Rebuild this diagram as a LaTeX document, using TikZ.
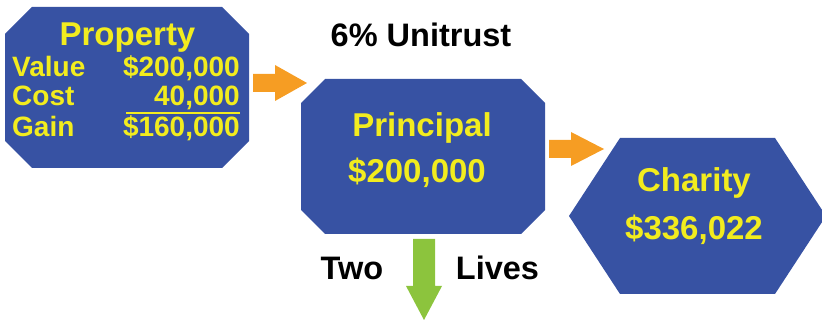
\documentclass[tikz,border=0pt]{standalone}
\usepackage{fontspec}
\setmainfont{Liberation Sans}
\usetikzlibrary{positioning}
\definecolor{boxblue}{RGB}{55, 82, 163}
\definecolor{txtyellow}{RGB}{242, 236, 30}
\definecolor{arroworange}{RGB}{246, 157, 35}
\definecolor{arrowgreen}{RGB}{140, 196, 61}

\begin{document}
\begin{tikzpicture}[x=1pt, y=-1pt,
  big/.style={font=\fontsize{33}{38}\selectfont\bfseries, text=txtyellow, inner sep=0pt},
  rowtxt/.style={font=\fontsize{28}{32}\selectfont\bfseries, text=txtyellow, inner sep=0pt},
  caption/.style={font=\fontsize{32.5}{36}\selectfont\bfseries, text=black, inner sep=0pt}
]
  \useasboundingbox (0,0) rectangle (822,320);

  % the three boxes
  \fill[boxblue] (5,34) -- (32,7) -- (222,7) -- (249,34) -- (249,141) -- (222,168) -- (32,168) -- (5,141) -- cycle;
  \coordinate (property) at (127,87.5);
  \fill[boxblue] (301,103) -- (325,79) -- (521,79) -- (545,103) -- (545,210) -- (521,234) -- (325,234) -- (301,210) -- cycle;
  \coordinate (principal) at (423,156.5);
  \fill[boxblue] (569,216) -- (620,138) -- (775,138) -- (826,216) -- (775,294) -- (620,294) -- cycle;
  \coordinate (charity) at (697,216);

  % property figures
  \node[big, anchor=base] (proptitle) at (127.5,46) {Property};
  \node[rowtxt, anchor=base west] (valuelbl) at (12,77) {Value};
  \node[rowtxt, anchor=base east] (valuenum) at (240,77) {\$200,000};
  \node[rowtxt, anchor=base west] (costlbl) at (12,106) {Cost};
  \node[rowtxt, anchor=base east] (costnum) at (240,106) {40,000};
  \node[rowtxt, anchor=base west] (gainlbl) at (12,137) {Gain};
  \node[rowtxt, anchor=base east] (gainnum) at (240,137) {\$160,000};
  \draw[txtyellow, line width=2pt] (126,113) -- (240,113);

  \node[big, anchor=base] (princtitle) at (422,137) {Principal};
  \node[big, anchor=base] (princnum) at (417,183) {\$200,000};
  \node[big, anchor=base] (chartitle) at (694,192) {Charity};
  \node[big, anchor=base] (charnum) at (694,240) {\$336,022};

  % captions
  \node[caption, anchor=base] (unitrust) at (421,47) {6\% Unitrust};
  \node[caption, anchor=base] (two) at (352,280) {Two};
  \node[caption, anchor=base] (lives) at (497.5,280) {Lives};

  % block arrows
  \fill[arroworange] (253,74) -- (275,74) -- (275,65) -- (307,83) -- (275,101) -- (275,92) -- (253,92) -- cycle;
  \fill[arroworange] (549,140) -- (571,140) -- (571,132) -- (604,149) -- (571,166) -- (571,158) -- (549,158) -- cycle;
  \fill[arrowgreen] (413,239) -- (435,239) -- (435,286) -- (442,286) -- (424,320) -- (406,286) -- (413,286) -- cycle;
\end{tikzpicture}
\end{document}
